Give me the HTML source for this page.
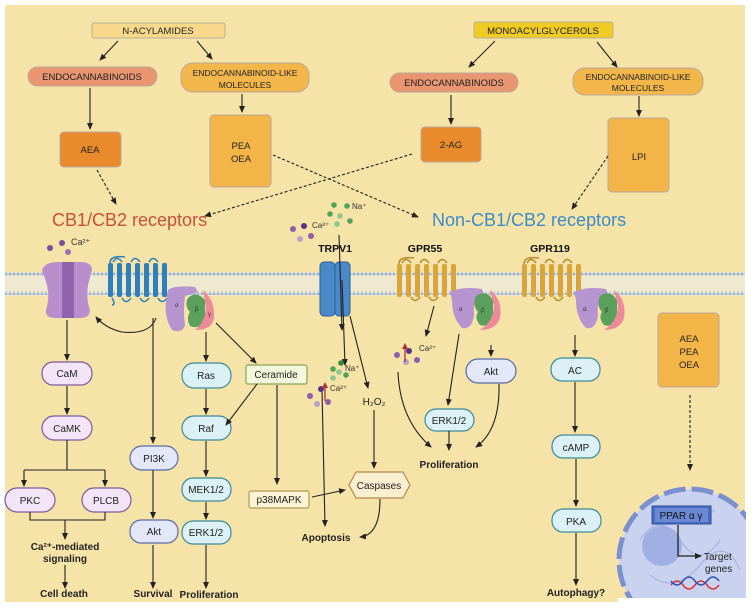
<!DOCTYPE html>
<html><head><meta charset="utf-8"><style>
html,body{margin:0;padding:0;background:#fff}
svg{display:block;font-family:"Liberation Sans",sans-serif}
</style></head><body>
<svg width="753" height="609" viewBox="0 0 753 609" xmlns="http://www.w3.org/2000/svg">
<defs>
<marker id="a" markerWidth="8" markerHeight="8" refX="6" refY="3" orient="auto" markerUnits="userSpaceOnUse"><path d="M0,0 L7,3 L0,6 z" fill="#222"/></marker>
<pattern id="dots" width="4" height="4" patternUnits="userSpaceOnUse"><circle cx="2" cy="2" r="1.5" fill="#9fb4cc"/></pattern>
</defs>
<rect x="0" y="0" width="753" height="609" fill="#fff"/>
<rect x="5" y="5" width="740" height="597" fill="#f6e3a7"/>
<!-- membrane -->
<rect x="5" y="272" width="740" height="24" fill="#efe9cf"/>
<rect x="5" y="272" width="740" height="4" fill="url(#dots)"/>
<rect x="5" y="291" width="740" height="4" fill="url(#dots)"/>

<g font-size="9.5" text-anchor="middle" fill="#222">
<!-- top boxes -->
<rect x="92" y="23" width="133" height="15" fill="#f8d98c" stroke="#b9b09a" rx="2"/>
<text x="158" y="34">N-ACYLAMIDES</text>
<rect x="474" y="22" width="139" height="16" fill="#f0cb23" stroke="#b9b09a" rx="2"/>
<text x="543" y="34">MONOACYLGLYCEROLS</text>
<rect x="28" y="67" width="129" height="19" rx="9.5" fill="#e99670" stroke="#b9a89a"/>
<text x="92" y="80">ENDOCANNABINOIDS</text>
<rect x="181" y="63" width="128" height="29" rx="12" fill="#f3b64b" stroke="#b9a89a"/>
<text x="245" y="76" font-size="8.5">ENDOCANNABINOID-LIKE</text><text x="245" y="88" font-size="8.5">MOLECULES</text>
<rect x="390" y="73" width="128" height="19" rx="9.5" fill="#e99670" stroke="#b9a89a"/>
<text x="454" y="86">ENDOCANNABINOIDS</text>
<rect x="573" y="68" width="130" height="27" rx="12" fill="#f3b64b" stroke="#b9a89a"/>
<text x="638" y="80" font-size="8.5">ENDOCANNABINOID-LIKE</text><text x="638" y="91" font-size="8.5">MOLECULES</text>
<rect x="60" y="132" width="61" height="35" rx="4" fill="#e98a2c" stroke="#b9a89a"/>
<text x="90" y="153">AEA</text>
<rect x="210" y="115" width="61" height="72" rx="4" fill="#f3b547" stroke="#b9a89a"/>
<text x="241" y="149">PEA</text><text x="241" y="162">OEA</text>
<rect x="421" y="127" width="60" height="35" rx="4" fill="#e98a2c" stroke="#b9a89a"/>
<text x="451" y="148">2-AG</text>
<rect x="608" y="118" width="61" height="74" rx="4" fill="#f3b547" stroke="#b9a89a"/>
<text x="639" y="160">LPI</text>
<rect x="658" y="313" width="61" height="74" rx="4" fill="#f3b547" stroke="#b9a89a"/>
<text x="689" y="342">AEA</text><text x="689" y="355">PEA</text><text x="689" y="368">OEA</text>
</g>

<g stroke="#222" stroke-width="1.1" fill="none" marker-end="url(#a)">
<path d="M118,41 L100,60"/><path d="M197,41 L212,59"/>
<path d="M495,41 L469,67"/><path d="M597,42 L617,67"/>
<path d="M90,88 L90,129"/><path d="M242,94 L242,112"/>
<path d="M451,95 L451,124"/><path d="M639,96 L639,116"/>
</g>
<g stroke="#222" stroke-width="1.1" fill="none" stroke-dasharray="3,2" marker-end="url(#a)">
<path d="M97,170 L116,204"/>
<path d="M273,155 L418,217"/>
<path d="M412,154 L205,216"/>
<path d="M608,156 L572,209"/>
<path d="M690,395 L690,470"/>
</g>
<text x="52" y="226" font-size="18" fill="#c7503a">CB1/CB2 receptors</text>
<text x="432" y="226" font-size="18" fill="#3a8cc8">Non-CB1/CB2 receptors</text>

<!-- Ca channel -->
<path d="M42,270 Q45,262 58,262 L80,262 Q92,262 92,270 L88,285 Q86,300 90,310 Q90,318 80,318 L55,318 Q45,318 46,310 Q50,298 47,285 Z" fill="#b88fcc"/>
<rect x="62" y="262" width="12" height="56" fill="#9163ad"/>
<g fill="#7a4d9a"><circle cx="50" cy="248" r="3"/><circle cx="62" cy="243" r="3"/><circle cx="68" cy="252" r="3" fill="#9a6fb6"/></g>
<text x="71" y="245" font-size="9" fill="#333">Ca²⁺</text>
<!-- GPCR blue -->
<g fill="#2f7fb8"><rect x="108" y="263" width="5" height="34" rx="2"/><rect x="117" y="263" width="5" height="34" rx="2"/><rect x="126" y="263" width="5" height="34" rx="2"/><rect x="135" y="263" width="5" height="34" rx="2"/><rect x="144" y="263" width="5" height="34" rx="2"/><rect x="153" y="263" width="5" height="34" rx="2"/><rect x="162" y="263" width="5" height="34" rx="2"/></g>
<path d="M110,263 Q110,255 125,257 M113,262 q4,-7 9,0 M131,262 q4,-7 9,0 M149,262 q4,-7 9,0 M122,298 q4,7 9,0 M140,298 q4,7 9,0 M158,298 q4,7 9,0 M112,298 q4,7 0,7" stroke="#2f7fb8" stroke-width="1.5" fill="none"/>
<!-- G protein 1 -->
<path d="M168,290 Q175,285 195,287 L198,292 L185,296 Q183,310 185,325 Q182,334 172,330 Q164,318 166,300 Z" fill="#b694d0"/>
<path d="M188,298 Q196,290 205,300 L205,320 Q200,330 190,326 Q186,318 190,312 Q184,306 188,298 Z" fill="#5aa05c"/>
<path d="M203,290 Q215,300 214,318 Q212,330 195,330 Q205,322 206,308 Z" fill="#ec8a9a"/>
<text x="175" y="307" font-size="6" fill="#333">α</text><text x="195" y="311" font-size="6" fill="#333">β</text><text x="208" y="316" font-size="6" fill="#333">γ</text>
<!-- TRPV1 -->
<rect x="320" y="262" width="15" height="54" rx="4" fill="#4a88c8" stroke="#2b5f95"/>
<rect x="335" y="262" width="15" height="54" rx="4" fill="#4a88c8" stroke="#2b5f95"/>
<text x="335" y="252" font-size="10.5" font-weight="bold" text-anchor="middle" fill="#111">TRPV1</text>
<g fill="#4fa35a"><circle cx="334" cy="205" r="2.8"/><circle cx="347" cy="206" r="2.8"/><circle cx="330" cy="214" r="2.8"/><circle cx="340" cy="216" r="2.8" fill="#8cc98e"/><circle cx="350" cy="221" r="2.8"/><circle cx="337" cy="224" r="2.8" fill="#8cc98e"/></g>
<text x="352" y="209" font-size="8" fill="#333">Na⁺</text>
<g fill="#8e5fa8"><circle cx="293" cy="229" r="3"/><circle cx="304" cy="226" r="3" fill="#5d2f86"/><circle cx="300" cy="239" r="3" fill="#bba0c8"/><circle cx="311" cy="236" r="3"/></g>
<text x="312" y="228" font-size="8" fill="#333">Ca²⁺</text>
<!-- GPR55 -->
<g fill="#d9a53a"><rect x="397" y="264" width="5" height="33" rx="2"/><rect x="406" y="264" width="5" height="33" rx="2"/><rect x="415" y="264" width="5" height="33" rx="2"/><rect x="424" y="264" width="5" height="33" rx="2"/><rect x="433" y="264" width="5" height="33" rx="2"/><rect x="442" y="264" width="5" height="33" rx="2"/><rect x="451" y="264" width="5" height="33" rx="2"/></g>
<path d="M399,264 Q399,256 414,258 M402,263 q4,-7 9,0 M420,263 q4,-7 9,0 M438,263 q4,-7 9,0 M411,297 q4,7 9,0 M429,297 q4,7 9,0" stroke="#b98a2a" stroke-width="1.5" fill="none"/>
<text x="425" y="252" font-size="10.5" font-weight="bold" text-anchor="middle" fill="#111">GPR55</text>
<path d="M450,292 Q462,286 482,289 L484,294 Q472,298 474,315 Q472,330 462,328 Q452,318 452,300 Z" fill="#b694d0"/>
<path d="M476,296 Q486,289 493,300 L493,318 Q488,328 480,325 Q474,318 478,312 Q472,305 476,296 Z" fill="#5aa05c"/>
<path d="M490,290 Q503,300 500,318 Q496,330 480,330 Q493,322 494,306 Z" fill="#ec8a9a"/>
<text x="459" y="311" font-size="6" fill="#333">α</text><text x="481" y="312" font-size="6" fill="#333">β</text>
<!-- GPR119 -->
<g fill="#d9a53a"><rect x="522" y="264" width="5" height="33" rx="2"/><rect x="531" y="264" width="5" height="33" rx="2"/><rect x="540" y="264" width="5" height="33" rx="2"/><rect x="549" y="264" width="5" height="33" rx="2"/><rect x="558" y="264" width="5" height="33" rx="2"/><rect x="567" y="264" width="5" height="33" rx="2"/><rect x="576" y="264" width="5" height="33" rx="2"/></g>
<path d="M524,264 Q524,256 539,258 M527,263 q4,-7 9,0 M545,263 q4,-7 9,0 M563,263 q4,-7 9,0 M536,297 q4,7 9,0 M554,297 q4,7 9,0" stroke="#b98a2a" stroke-width="1.5" fill="none"/>
<text x="550" y="252" font-size="10.5" font-weight="bold" text-anchor="middle" fill="#111">GPR119</text>
<path d="M574,292 Q586,286 606,289 L608,294 Q596,298 598,315 Q596,330 586,328 Q576,318 576,300 Z" fill="#b694d0"/>
<path d="M600,296 Q610,289 617,300 L617,318 Q612,328 604,325 Q598,318 602,312 Q596,305 600,296 Z" fill="#5aa05c"/>
<path d="M614,290 Q627,300 624,318 Q620,330 604,330 Q617,322 618,306 Z" fill="#ec8a9a"/>
<text x="583" y="311" font-size="6" fill="#333">α</text><text x="605" y="312" font-size="6" fill="#333">β</text>

<!-- pills -->
<g font-size="10" text-anchor="middle" fill="#222">
<g fill="#f3e4f7" stroke="#7b5a9b" stroke-width="1.2">
<rect x="42" y="362" width="50" height="23" rx="11"/><rect x="42" y="416" width="50" height="24" rx="12"/>
<rect x="5" y="488" width="50" height="24" rx="12"/><rect x="82" y="488" width="49" height="24" rx="12"/>
</g>
<text x="67" y="377">CaM</text><text x="67" y="432">CaMK</text><text x="30" y="504">PKC</text><text x="106" y="504">PLCB</text>
<g fill="#e4e7f8" stroke="#5a6aa8" stroke-width="1.2">
<rect x="130" y="446" width="48" height="24" rx="12"/><rect x="130" y="520" width="48" height="23" rx="11"/>
<rect x="466" y="359" width="50" height="24" rx="12"/>
</g>
<text x="154" y="462">PI3K</text><text x="154" y="535">Akt</text><text x="491" y="375">Akt</text>
<g fill="#dcf1f6" stroke="#3d8a9a" stroke-width="1.2">
<rect x="182" y="363" width="49" height="25" rx="12"/><rect x="182" y="416" width="49" height="24" rx="12"/>
<rect x="182" y="478" width="49" height="23" rx="11"/><rect x="182" y="521" width="49" height="23" rx="11"/>
<rect x="425" y="409" width="49" height="22" rx="11"/>
<rect x="551" y="358" width="49" height="23" rx="11"/><rect x="552" y="435" width="48" height="23" rx="11"/><rect x="552" y="509" width="49" height="23" rx="11"/>
</g>
<text x="206" y="379">Ras</text><text x="206" y="432">Raf</text><text x="206" y="493">MEK1/2</text><text x="206" y="536">ERK1/2</text>
<text x="449" y="424">ERK1/2</text><text x="575" y="374">AC</text><text x="576" y="451">cAMP</text><text x="576" y="525">PKA</text>
<rect x="246" y="365" width="61" height="19" rx="2" fill="#f3f7dc" stroke="#8ba45a" stroke-width="1.2"/><text x="276" y="378">Ceramide</text>
<rect x="249" y="491" width="60" height="17" rx="2" fill="#fbf3d2" stroke="#b09a5a" stroke-width="1.2"/><text x="279" y="503">p38MAPK</text>
<path d="M356,472 L403,472 L410,485 L403,498 L356,498 L349,485 Z" fill="#fbefcf" stroke="#b08a50" stroke-width="1.2"/><text x="379" y="489">Caspases</text>
<text x="374" y="405" font-size="10">H₂O₂</text>
</g>
<g font-size="10" font-weight="bold" text-anchor="middle" fill="#222">
<text x="65" y="550">Ca²⁺-mediated</text><text x="65" y="562">signaling</text>
<text x="64" y="597">Cell death</text><text x="153" y="597">Survival</text><text x="209" y="598">Proliferation</text>
<text x="326" y="541">Apoptosis</text><text x="449" y="468">Proliferation</text><text x="576" y="596">Autophagy?</text>
</g>

<g stroke="#222" stroke-width="1.1" fill="none" marker-end="url(#a)">
<path d="M67,320 L67,360"/><path d="M67,386 L67,414"/>
<path d="M65,530 L65,539"/><path d="M65,565 L65,588"/>
<path d="M156,318 Q150,335 122,332 Q105,328 96,317"/>
<path d="M153,318 L153,443"/><path d="M153,470 L153,518"/><path d="M153,545 L153,588"/>
<path d="M206,332 L206,361"/><path d="M206,389 L206,414"/><path d="M206,441 L206,476"/><path d="M206,502 L206,519"/><path d="M206,545 L206,588"/>
<path d="M216,323 L256,363"/><path d="M257,384 L226,425"/><path d="M277,385 L277,484"/>
<path d="M312,497 L345,490"/>
<path d="M339,235 L342,330"/><path d="M342,280 L345,365"/><path d="M350,316 L368,388"/>
<path d="M374,410 L374,468"/>
<path d="M380,499 Q380,535 360,537"/>
<path d="M322,390 L325,526"/>
<path d="M434,306 L426,336"/>
<path d="M398,372 Q400,420 431,447"/>
<path d="M459,334 L448,405"/><path d="M449,431 L449,450"/>
<path d="M491,345 L491,356"/><path d="M499,384 Q500,430 476,447"/>
<path d="M575,335 L575,356"/><path d="M575,382 L575,432"/><path d="M576,459 L576,506"/><path d="M576,533 L576,585"/>
</g>
<g stroke="#222" stroke-width="1.1" fill="none">
<path d="M67,440 L67,470 M24,470 L105,470"/>
<path d="M30,512 L30,520 L105,520 L105,512 M65,520 L65,532"/>
</g>
<g stroke="#222" stroke-width="1.1" fill="none" marker-end="url(#a)"><path d="M24,470 L24,486"/><path d="M105,470 L105,486"/></g>

<!-- lower ion dots -->
<g><circle cx="333" cy="369" r="2.8" fill="#4fa35a"/><circle cx="341" cy="363" r="2.8" fill="#2f8a3a"/><circle cx="339" cy="372" r="2.8" fill="#8cc98e"/><circle cx="333" cy="378" r="2.8" fill="#8cc98e"/><circle cx="346" cy="375" r="2.8" fill="#4fa35a"/>
<circle cx="310" cy="396" r="3" fill="#8e5fa8"/><circle cx="321" cy="389" r="3" fill="#5d2f86"/><circle cx="317" cy="404" r="3" fill="#bba0c8"/><circle cx="328" cy="402" r="3" fill="#8e5fa8"/></g>
<text x="345" y="371" font-size="8" fill="#333">Na⁺</text><text x="330" y="391" font-size="8" fill="#333">Ca²⁺</text>
<path d="M325,401 L325,386" stroke="#a33" stroke-width="1.3"/><path d="M322,388 L325,382 L328,388z" fill="#a33"/>
<g><circle cx="397" cy="355" r="3" fill="#8e5fa8"/><circle cx="409" cy="351" r="3" fill="#5d2f86"/><circle cx="406" cy="362" r="3" fill="#bba0c8"/><circle cx="417" cy="360" r="3" fill="#8e5fa8"/></g>
<path d="M405,362 L405,347" stroke="#a33" stroke-width="1.3"/><path d="M402,349 L405,343 L408,349z" fill="#a33"/>
<text x="419" y="351" font-size="8" fill="#333">Ca²⁺</text>

<!-- nucleus -->
<circle cx="690" cy="560" r="71" fill="#c9d3ef" stroke="#7a90cf" stroke-width="5" stroke-dasharray="22,6"/>
<rect x="618" y="598" width="140" height="11" fill="#fff"/>
<rect x="746" y="480" width="7" height="130" fill="#fff"/>
<path d="M640,540 q20,-30 40,0 t40,0 M650,575 q25,20 50,-10 t40,5 M660,520 q30,10 55,-10" stroke="#9fb0dd" stroke-width="1" fill="none"/>
<circle cx="662" cy="546" r="20" fill="#a0b0e4"/>
<rect x="652" y="506" width="59" height="18" fill="#4a6cc0" stroke="#2d4f9a"/>
<rect x="655" y="508" width="53" height="14" fill="#6b88d4"/>
<text x="681" y="519" font-size="10" text-anchor="middle" fill="#111">PPAR α γ</text>
<path d="M678,525 L678,556 L701,556" stroke="#222" stroke-width="1.3" fill="none" marker-end="url(#a)"/>
<text x="704" y="560" font-size="10" fill="#222">Target</text>
<text x="705" y="572" font-size="10" fill="#222">genes</text>
<path d="M671,585 q6,-8 12,0 t12,0 t12,0 t12,0" stroke="#d33" stroke-width="1.5" fill="none"/>
<path d="M671,581 q6,8 12,0 t12,0 t12,0 t12,0" stroke="#2b4fb0" stroke-width="1.5" fill="none"/>
</svg>
</body></html>
